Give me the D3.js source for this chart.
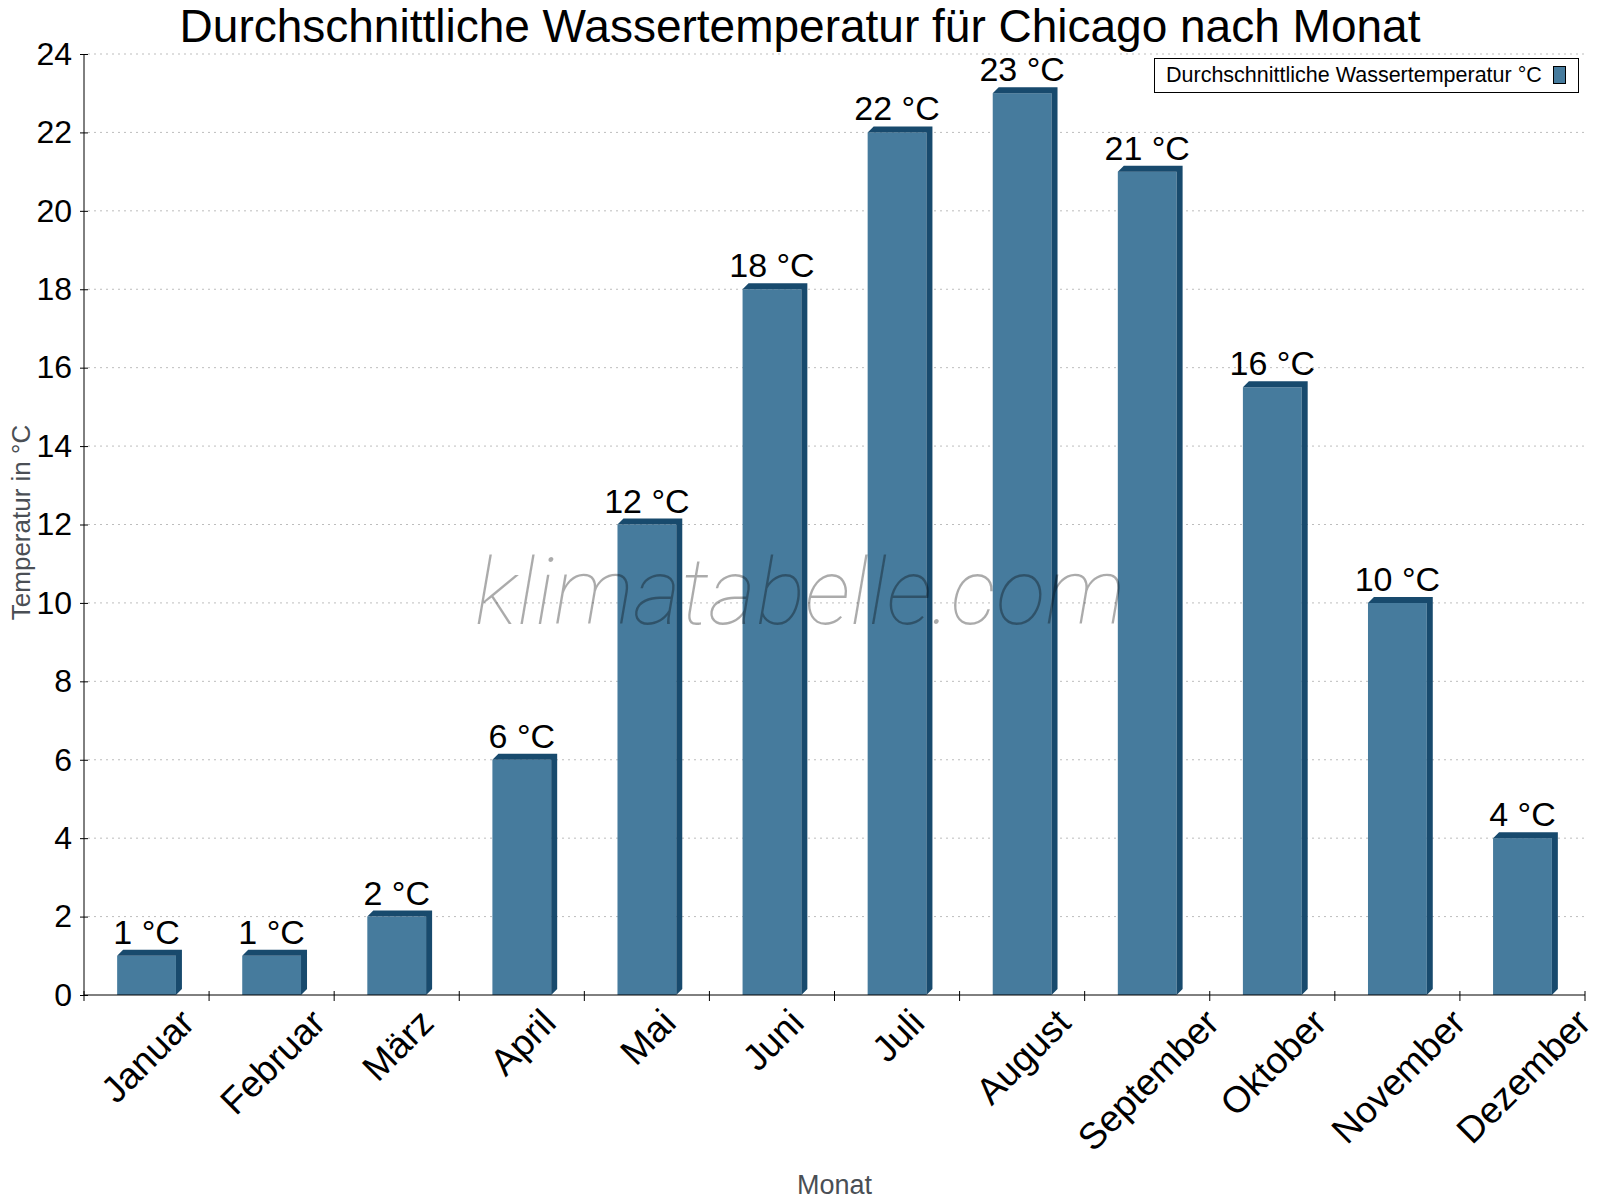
<!DOCTYPE html>
<html>
<head>
<meta charset="utf-8">
<script src="https://cdn.jsdelivr.net/npm/d3@7"></script>
<style>
  body { margin: 0; background: #fff; }
  svg { display: block; font-family: "Liberation Sans", Arial, sans-serif; }
</style>
</head>
<body>
<div id="chart"></div>
<script>
// data
var months = ["Januar", "Februar", "März", "April", "Mai", "Juni", "Juli",
              "August", "September", "Oktober", "November", "Dezember"];
var waterTemp = [1, 1, 2, 6, 12, 18, 22, 23, 21, 15.5, 10, 4];
var yTicks = [0, 2, 4, 6, 8, 10, 12, 14, 16, 18, 20, 22, 24];

var svgWidth = 1600, svgHeight = 1200;
var margin = {top: 54, right: 15, bottom: 205, left: 84};
var width = svgWidth - margin.left - margin.right;
var height = svgHeight - margin.top - margin.bottom;

var frontColor = "#467b9d", darkColor = "#184a6d";
var depth = 6;

var svg = d3.select("#chart").append("svg")
    .attr("width", svgWidth)
    .attr("height", svgHeight);

var g = svg.append("g")
    .attr("transform", "translate(" + margin.left + "," + margin.top + ")");

var x = d3.scaleBand().domain(months).range([0, width]);
var y = d3.scaleLinear().domain([0, 24]).range([height, 0]);

// dotted grid
g.append("g").selectAll("line")
    .data(yTicks.filter(function(d) { return d > 0; }))
    .enter().append("line")
    .attr("x1", 4).attr("x2", width)
    .attr("y1", function(d) { return y(d); })
    .attr("y2", function(d) { return y(d); })
    .attr("stroke", "#bdbdbd")
    .attr("stroke-width", 1)
    .attr("stroke-dasharray", "2,4");

// bars with a small 3d depth
var barW = x.bandwidth() * 0.47;
var bars = g.append("g").selectAll("g.bar")
    .data(months.map(function(m, i) { return {name: m, value: waterTemp[i]}; }))
    .enter().append("g").attr("class", "bar");

bars.append("rect")
    .attr("x", function(d) { return x(d.name) + (x.bandwidth() - barW) / 2; })
    .attr("y", function(d) { return y(d.value); })
    .attr("width", barW)
    .attr("height", function(d) { return height - y(d.value); })
    .attr("fill", frontColor);

bars.append("path")
    .attr("fill", darkColor)
    .attr("d", function(d) {
        var x0 = x(d.name) + (x.bandwidth() - barW) / 2, x1 = x0 + barW;
        var t = y(d.value), b = y(0);
        return "M" + x0 + "," + t + "L" + (x0 + depth) + "," + (t - depth) +
               "L" + (x1 + depth) + "," + (t - depth) + "L" + (x1 + depth) + "," + (b - depth) +
               "L" + x1 + "," + b + "L" + x1 + "," + t + "Z";
    });

bars.append("text")
    .attr("x", function(d) { return x(d.name) + x.bandwidth() / 2; })
    .attr("y", function(d) { return y(d.value) - depth - 6; })
    .attr("text-anchor", "middle")
    .attr("font-size", 34)
    .attr("fill", "#000")
    .text(function(d) { return Math.round(d.value) + " °C"; });

// y axis
var yAxis = d3.axisLeft(y).tickValues(yTicks).tickSize(4).tickPadding(8);
var yAxisSVG = g.append("g").call(yAxis);
yAxisSVG.select(".domain").attr("stroke", "#000").attr("d", "M0," + height + "V0");
yAxisSVG.selectAll(".tick line").attr("x1", 4).attr("x2", -4).attr("stroke", "#000");
yAxisSVG.selectAll(".tick text")
    .attr("font-size", 32)
    .attr("font-family", "Liberation Sans, Arial, sans-serif")
    .attr("fill", "#000");

// x axis, ticks on band edges
var xAxisSVG = g.append("g").attr("transform", "translate(0," + height + ")");
xAxisSVG.append("line")
    .attr("x1", 0).attr("x2", width)
    .attr("stroke", "#000");
xAxisSVG.selectAll("line.tick")
    .data(d3.range(months.length + 1))
    .enter().append("line").attr("class", "tick")
    .attr("x1", function(i) { return i * x.step(); })
    .attr("x2", function(i) { return i * x.step(); })
    .attr("y1", -4).attr("y2", 6)
    .attr("stroke", "#000");

var xLabels = xAxisSVG.selectAll("text")
    .data(months)
    .enter().append("text")
    .attr("text-anchor", "middle")
    .attr("font-size", 37)
    .attr("fill", "#000")
    .text(function(d) { return d; });
xLabels.each(function(d) {
    var len = this.getComputedTextLength();
    var cx = x(d) + x.bandwidth() / 2 + 10;
    var cy = 30 + len * 0.354;
    d3.select(this).attr("transform", "translate(" + cx + "," + cy + ") rotate(-45)");
});

// axis titles
svg.append("text")
    .attr("transform", "translate(30," + (margin.top + height / 2 - 2) + ") rotate(-90)")
    .attr("text-anchor", "middle")
    .attr("font-size", 26)
    .attr("fill", "#4a4f55")
    .text("Temperatur in °C");

svg.append("text")
    .attr("x", margin.left + width / 2)
    .attr("y", 1194)
    .attr("text-anchor", "middle")
    .attr("font-size", 27)
    .attr("fill", "#4a4f55")
    .text("Monat");

// title
svg.append("text")
    .attr("x", 800)
    .attr("y", 42)
    .attr("text-anchor", "middle")
    .attr("font-size", 46)
    .attr("fill", "#000")
    .text("Durchschnittliche Wassertemperatur für Chicago nach Monat");

// legend
var legend = svg.append("g");
legend.append("rect")
    .attr("x", 1154.5).attr("y", 58.5)
    .attr("width", 424).attr("height", 34)
    .attr("fill", "#fff").attr("stroke", "#000");
legend.append("text")
    .attr("x", 1166).attr("y", 82)
    .attr("font-size", 21.5)
    .attr("fill", "#000")
    .text("Durchschnittliche Wassertemperatur °C");
legend.append("rect")
    .attr("x", 1553.5).attr("y", 66.5)
    .attr("width", 12).attr("height", 17)
    .attr("fill", frontColor).attr("stroke", "#000");

// watermark
svg.append("text")
    .attr("x", 800)
    .attr("y", 624)
    .attr("text-anchor", "middle")
    .attr("font-family", "Roboto, sans-serif")
    .attr("font-style", "italic")
    .attr("font-weight", 100)
    .attr("font-size", 92)
    .attr("fill", "#000")
    .attr("fill-opacity", 0.33)
    .text("klimatabelle.com");
</script>
</body>
</html>
